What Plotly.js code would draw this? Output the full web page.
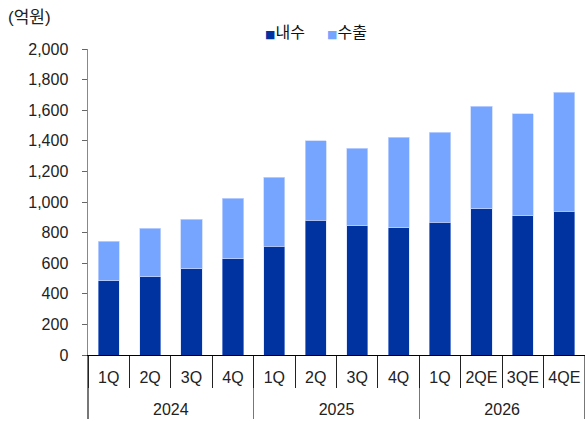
<!DOCTYPE html>
<html>
<head>
<meta charset="utf-8">
<script src="https://cdn.plot.ly/plotly-3.0.1.min.js"></script>
<style>html,body{margin:0;padding:0;background:#fff;}#chart{width:585px;height:421px;}</style>
</head>
<body>
<div id="chart"></div>
<script>
const years = ["2024","2024","2024","2024","2025","2025","2025","2025","2026","2026","2026","2026"];
const quarters = ["1Q","2Q","3Q","4Q","1Q","2Q","3Q","4Q","1Q","2QE","3QE","4QE"];
const domestic = [485, 512, 564, 629, 710, 882, 845, 832, 869, 956, 910, 941];
const exportVals = [260, 316, 323, 395, 453, 517, 506, 591, 587, 671, 667, 776];
const seriesNames = ["내수", "수출"];
const seriesColors = ["#0033A0", "#76A5FF"];
const yTicks = [0,200,400,600,800,1000,1200,1400,1600,1800,2000];

const FONT = "'Liberation Sans', Arial, 'Noto Sans CJK KR', sans-serif";
// quarter labels get an empty second line so the year row sits lower
const xcats = [years, quarters.map(q => q + "<br>&nbsp;")];

const traces = [
  {type:"bar", name:seriesNames[0], x:xcats, y:domestic,
   marker:{color:seriesColors[0], line:{color:"rgba(200,215,255,0.6)", width:0.8}}, hoverinfo:"skip"},
  {type:"bar", name:seriesNames[1], x:xcats, y:exportVals,
   marker:{color:seriesColors[1], line:{color:"rgba(200,215,255,0.9)", width:0.8}}, hoverinfo:"skip"},
  {type:"bar", x:xcats, y:domestic, xaxis:"x2", showlegend:false, opacity:0, hoverinfo:"skip"}
];

const legendText = seriesNames.map((n, i) =>
  `<span style="color:${seriesColors[i]};font-family:'DejaVu Sans';font-size:11px">■</span>${n}`
).join("&nbsp;&nbsp;&nbsp;&nbsp;&nbsp;");

const layout = {
  width:585, height:421,
  margin:{l:88, r:0, t:49, b:66},
  paper_bgcolor:"#fff", plot_bgcolor:"#fff",
  barmode:"stack", bargap:0.49,
  font:{family:FONT, size:16, color:"#222"},
  showlegend:false,
  xaxis:{type:"multicategory", showline:true, linecolor:"#000", linewidth:1,
         ticks:"", showdividers:true, dividercolor:"#777", dividerwidth:1.5,
         ticklabelstandoff:8,
         tickfont:{family:FONT, size:16, color:"#222"}, showgrid:false, zeroline:false,
         range:[-0.5,11.5]},
  xaxis2:{type:"multicategory", overlaying:"x", anchor:"y", side:"bottom",
          ticks:"outside", ticklen:32, tickcolor:"#222", tickwidth:1,
          showticklabels:false, showdividers:false, showline:false, showgrid:false,
          zeroline:false, range:[-0.5,11.5]},
  yaxis:{range:[0,2000], tickvals:yTicks, tickformat:",d", ticks:"outside", ticklen:5,
         tickcolor:"#666", showline:true, linecolor:"#888", linewidth:1.5,
         showgrid:false, zeroline:false, ticklabelstandoff:10,
         tickfont:{family:FONT, size:16, color:"#222"}},
  annotations:[
    {text:"(억원)", xref:"paper", yref:"paper", x:-88/497, y:(355-18)/306,
     xanchor:"left", yanchor:"middle", showarrow:false, xshift:6,
     font:{family:FONT, size:17, color:"#222"}},
    {text:legendText, xref:"paper", yref:"paper", x:(263-88)/497, y:(355-33)/306,
     xanchor:"left", yanchor:"middle", showarrow:false,
     font:{family:FONT, size:16, color:"#111"}}
  ]
};

Plotly.newPlot("chart", traces, layout, {staticPlot:true, displayModeBar:false});
</script>
</body>
</html>
